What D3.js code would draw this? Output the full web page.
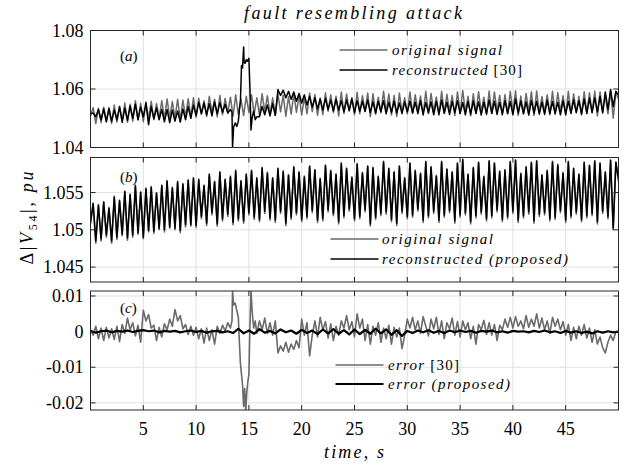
<!DOCTYPE html>
<html><head><meta charset="utf-8">
<script src="https://cdn.jsdelivr.net/npm/d3@7"></script>
<style>
body{margin:0;background:#fff}
svg, svg text{font-family:"Liberation Serif","DejaVu Serif","Noto Serif",serif;fill:#000}
</style>
</head><body>
<svg id="chart" width="628" height="466" font-family="Liberation Serif, DejaVu Serif, serif"></svg>
<script>
// ---------------- DATA ----------------
const timeStep = 0.25;           // seconds between samples of the main series
const errProposedStep = 0.5;     // seconds between samples of error (proposed)
const xTicks = [5, 10, 15, 20, 25, 30, 35, 40, 45];
const xTickLabels = ["5", "10", "15", "20", "25", "30", "35", "40", "45"];
const yTicksA = [1.04, 1.06, 1.08];
const yTickLabelsA = ["1.04", "1.06", "1.08"];
const yTicksB = [1.045, 1.05, 1.055];
const yTickLabelsB = ["1.045", "1.05", "1.055"];
const yTicksC = [-0.02, -0.01, 0, 0.01];
const yTickLabelsC = ["-0.02", "-0.01", "0", "0.01"];
const legendA = ["original signal", "reconstructed [30]"];
const legendB = ["original signal", "reconstructed (proposed)"];
const legendC = ["error [30]", "error (proposed)"];

// original signal, t = 0 .. 50 s every 0.25 s (one row per second)
const originalSignal = [
1.0508,1.0536,1.0482,1.0534,
1.0485,1.0538,1.0490,1.0530,
1.0482,1.0545,1.0487,1.0540,
1.0492,1.0552,1.0486,1.0548,
1.0490,1.0560,1.0494,1.0551,
1.0488,1.0556,1.0497,1.0558,
1.0495,1.0550,1.0500,1.0560,
1.0497,1.0566,1.0502,1.0557,
1.0500,1.0565,1.0496,1.0562,
1.0504,1.0567,1.0505,1.0570,
1.0503,1.0568,1.0515,1.0560,
1.0506,1.0575,1.0520,1.0565,
1.0505,1.0578,1.0512,1.0568,
1.0518,1.0572,1.0507,1.0580,
1.0512,1.0566,1.0509,1.0575,
1.0520,1.0580,1.0514,1.0570,
1.0511,1.0584,1.0522,1.0577,
1.0513,1.0570,1.0510,1.0583,
1.0522,1.0579,1.0506,1.0574,
1.0514,1.0585,1.0520,1.0578,
1.0511,1.0572,1.0515,1.0586,
1.0523,1.0581,1.0510,1.0569,
1.0512,1.0587,1.0524,1.0580,
1.0519,1.0575,1.0508,1.0590,
1.0516,1.0583,1.0525,1.0571,
1.0512,1.0589,1.0515,1.0577,
1.0524,1.0586,1.0505,1.0584,
1.0514,1.0572,1.0519,1.0592,
1.0521,1.0583,1.0511,1.0578,
1.0506,1.0586,1.0522,1.0570,
1.0515,1.0590,1.0517,1.0580,
1.0525,1.0576,1.0510,1.0592,
1.0516,1.0585,1.0522,1.0573,
1.0510,1.0592,1.0517,1.0582,
1.0523,1.0578,1.0509,1.0590,
1.0517,1.0595,1.0520,1.0575,
1.0508,1.0584,1.0516,1.0591,
1.0521,1.0572,1.0512,1.0593,
1.0516,1.0590,1.0524,1.0579,
1.0511,1.0581,1.0515,1.0592,
1.0522,1.0594,1.0510,1.0576,
1.0516,1.0585,1.0521,1.0591,
1.0509,1.0593,1.0518,1.0574,
1.0520,1.0580,1.0512,1.0592,
1.0514,1.0588,1.0523,1.0577,
1.0510,1.0592,1.0516,1.0583,
1.0521,1.0575,1.0511,1.0591,
1.0516,1.0587,1.0519,1.0593,
1.0508,1.0590,1.0522,1.0578,
1.0515,1.0594,1.0500,1.0590,
1.0565];

// reconstructed [30], t = 0 .. 50 s every 0.25 s (spike detail below)
const reconstructed30 = [
1.0515,1.0518,1.0505,1.0530,
1.0495,1.0532,1.0488,1.0535,
1.0490,1.0528,1.0495,1.0540,
1.0486,1.0535,1.0493,1.0542,
1.0500,1.0548,1.0495,1.0538,
1.0505,1.0552,1.0478,1.0540,
1.0498,1.0535,1.0495,1.0530,
1.0488,1.0530,1.0485,1.0528,
1.0490,1.0525,1.0487,1.0532,
1.0495,1.0540,1.0500,1.0545,
1.0510,1.0555,1.0515,1.0552,
1.0512,1.0550,1.0508,1.0556,
1.0515,1.0553,1.0520,1.0548,
1.0518,1.0540,1.0402,1.0460,
1.0480,1.0590,1.0690,1.0740,
1.0705,1.0460,1.0520,1.0505,
1.0505,1.0540,1.0512,1.0545,
1.0508,1.0550,1.0510,1.0598,
1.0578,1.0596,1.0570,1.0592,
1.0565,1.0590,1.0558,1.0585,
1.0552,1.0580,1.0545,1.0575,
1.0538,1.0570,1.0532,1.0566,
1.0528,1.0568,1.0530,1.0562,
1.0525,1.0565,1.0528,1.0560,
1.0522,1.0563,1.0526,1.0566,
1.0520,1.0560,1.0524,1.0558,
1.0523,1.0562,1.0519,1.0556,
1.0518,1.0558,1.0522,1.0560,
1.0515,1.0555,1.0520,1.0558,
1.0518,1.0552,1.0516,1.0556,
1.0522,1.0558,1.0518,1.0555,
1.0516,1.0560,1.0514,1.0554,
1.0519,1.0556,1.0512,1.0558,
1.0515,1.0562,1.0517,1.0555,
1.0513,1.0557,1.0519,1.0560,
1.0516,1.0554,1.0512,1.0558,
1.0514,1.0559,1.0517,1.0556,
1.0511,1.0555,1.0515,1.0562,
1.0517,1.0558,1.0513,1.0554,
1.0514,1.0560,1.0516,1.0557,
1.0512,1.0566,1.0518,1.0559,
1.0515,1.0556,1.0511,1.0561,
1.0518,1.0558,1.0514,1.0555,
1.0513,1.0562,1.0516,1.0557,
1.0516,1.0555,1.0512,1.0560,
1.0514,1.0558,1.0517,1.0563,
1.0519,1.0560,1.0515,1.0566,
1.0517,1.0568,1.0520,1.0570,
1.0522,1.0575,1.0518,1.0590,
1.0530,1.0598,1.0540,1.0592,
1.0580];
// finer reading of the attack spike of reconstructed [30]
const recon30SpikeTime  = [13.25,13.4,13.45,13.55,13.7,13.85,14.0,14.1,14.2,14.3,14.4,14.5,14.55,14.65,14.75,14.85,15.0,15.1,15.2,15.3,15.45,15.6,15.75];
const recon30SpikeValue = [1.0530,1.0520,1.0400,1.0470,1.0484,1.0472,1.0490,1.0528,1.0560,1.0680,1.0672,1.0744,1.0690,1.0688,1.0700,1.0695,1.0705,1.0600,1.0460,1.0500,1.0525,1.0495,1.0505];

// reconstructed (proposed), t = 0 .. 50 s every 0.25 s
const reconstructedProposed = [
1.0510,1.0535,1.0485,1.0533,
1.0488,1.0537,1.0493,1.0529,
1.0485,1.0544,1.0490,1.0539,
1.0494,1.0551,1.0489,1.0547,
1.0493,1.0559,1.0496,1.0550,
1.0490,1.0555,1.0499,1.0557,
1.0498,1.0549,1.0502,1.0559,
1.0500,1.0565,1.0504,1.0556,
1.0502,1.0564,1.0499,1.0561,
1.0507,1.0566,1.0507,1.0569,
1.0506,1.0567,1.0518,1.0559,
1.0509,1.0574,1.0523,1.0564,
1.0508,1.0577,1.0515,1.0567,
1.0521,1.0571,1.0510,1.0579,
1.0515,1.0565,1.0512,1.0574,
1.0523,1.0579,1.0517,1.0569,
1.0514,1.0583,1.0525,1.0576,
1.0516,1.0569,1.0513,1.0582,
1.0525,1.0578,1.0509,1.0573,
1.0517,1.0584,1.0523,1.0577,
1.0514,1.0571,1.0518,1.0585,
1.0526,1.0580,1.0513,1.0568,
1.0515,1.0586,1.0527,1.0579,
1.0522,1.0574,1.0511,1.0589,
1.0519,1.0582,1.0528,1.0570,
1.0515,1.0588,1.0518,1.0576,
1.0527,1.0585,1.0508,1.0583,
1.0517,1.0571,1.0522,1.0591,
1.0524,1.0582,1.0514,1.0577,
1.0509,1.0585,1.0525,1.0569,
1.0518,1.0589,1.0520,1.0579,
1.0528,1.0575,1.0513,1.0591,
1.0519,1.0584,1.0525,1.0572,
1.0513,1.0591,1.0520,1.0581,
1.0526,1.0577,1.0512,1.0589,
1.0520,1.0594,1.0523,1.0574,
1.0511,1.0583,1.0519,1.0590,
1.0524,1.0571,1.0515,1.0592,
1.0519,1.0589,1.0527,1.0578,
1.0514,1.0580,1.0518,1.0591,
1.0525,1.0593,1.0513,1.0575,
1.0519,1.0584,1.0524,1.0590,
1.0512,1.0592,1.0521,1.0573,
1.0523,1.0579,1.0515,1.0591,
1.0517,1.0587,1.0526,1.0576,
1.0513,1.0591,1.0519,1.0582,
1.0524,1.0574,1.0514,1.0590,
1.0519,1.0586,1.0522,1.0592,
1.0511,1.0589,1.0525,1.0577,
1.0518,1.0593,1.0502,1.0591,
1.0568];

// error [30], t = 0 .. 50 s every 0.25 s (spike detail below)
const error30 = [
0.0005,-0.0010,0.0015,-0.0020,
0.0010,-0.0025,0.0012,-0.0018,
0.0008,-0.0022,0.0015,-0.0028,
0.0020,-0.0005,0.0038,0.0005,
0.0025,-0.0012,0.0018,-0.0030,
0.0060,0.0030,0.0048,0.0010,
0.0018,-0.0025,0.0012,-0.0015,
0.0022,0.0005,0.0035,0.0015,
0.0062,0.0030,0.0045,0.0008,
0.0020,-0.0008,0.0015,-0.0010,
0.0012,-0.0020,0.0008,-0.0032,
0.0010,-0.0025,0.0005,-0.0035,
0.0015,-0.0005,0.0018,0.0002,
0.0025,0.0010,0.0110,0.0070,
0.0040,-0.0120,-0.0210,-0.0170,
-0.0120,0.0110,0.0010,0.0030,
0.0030,0.0005,0.0038,-0.0005,
0.0025,-0.0010,0.0030,-0.0060,
-0.0040,-0.0055,-0.0030,-0.0058,
-0.0035,-0.0050,-0.0025,-0.0045,
0.0035,-0.0010,0.0025,-0.0068,
-0.0010,0.0030,-0.0015,0.0040,
0.0005,0.0028,-0.0018,0.0022,
-0.0025,0.0015,-0.0010,0.0030,
0.0010,0.0045,0.0005,0.0028,
-0.0015,0.0050,0.0010,0.0035,
-0.0025,0.0020,-0.0035,0.0015,
-0.0010,0.0025,-0.0030,0.0010,
-0.0020,0.0018,-0.0035,0.0012,
-0.0015,0.0010,-0.0048,-0.0010,
0.0035,0.0010,0.0040,0.0005,
0.0030,-0.0005,0.0042,0.0015,
-0.0012,0.0035,0.0008,0.0040,
-0.0008,0.0030,-0.0020,0.0025,
0.0008,0.0038,-0.0010,0.0028,
-0.0015,0.0030,0.0005,0.0025,
-0.0020,0.0015,-0.0035,0.0020,
0.0005,0.0032,-0.0008,0.0025,
-0.0010,0.0020,-0.0025,0.0018,
0.0005,0.0035,0.0012,0.0040,
0.0010,0.0042,0.0015,0.0030,
0.0008,0.0045,0.0012,0.0035,
0.0015,0.0050,0.0010,0.0038,
0.0005,0.0030,-0.0005,0.0040,
0.0015,0.0035,0.0005,0.0028,
-0.0010,0.0020,-0.0025,0.0012,
-0.0020,0.0015,-0.0010,0.0020,
-0.0018,0.0010,-0.0030,0.0005,
-0.0035,-0.0015,-0.0045,-0.0060,
-0.0030,-0.0010,-0.0025,0.0000,
0.0000];
const error30SpikeTime  = [13.25,13.4,13.45,13.55,13.7,13.85,14.0,14.1,14.2,14.3,14.4,14.5,14.6,14.7,14.8,14.9,15.0,15.1,15.2,15.3,15.45,15.6,15.75];
const error30SpikeValue = [0.0010,0.0030,0.0115,0.0075,0.0080,0.0060,0.0040,-0.0030,-0.0090,-0.0120,-0.0150,-0.0210,-0.0160,-0.0225,-0.0170,-0.0140,-0.0120,0.0020,0.0115,0.0060,0.0010,0.0030,-0.0005];

// error (proposed), t = 0 .. 50 s every 0.5 s
const errorProposed = [
0.0002,-0.0003,0.0001,0.0003,-0.0002,0.0002,0.0000,0.0003,-0.0001,0.0002,
0.0004,0.0001,0.0003,-0.0002,0.0002,0.0000,0.0002,-0.0002,0.0001,0.0003,
-0.0001,0.0002,-0.0003,0.0001,0.0002,-0.0002,0.0001,-0.0004,0.0008,-0.0005,
0.0003,-0.0006,0.0007,-0.0003,0.0002,-0.0005,0.0006,-0.0002,0.0003,-0.0006,
0.0005,-0.0004,0.0003,-0.0007,0.0006,-0.0005,0.0007,-0.0006,0.0004,-0.0008,
0.0006,-0.0007,0.0005,-0.0006,0.0008,-0.0005,0.0006,-0.0009,0.0004,-0.0012,
0.0002,-0.0004,0.0003,-0.0002,0.0004,-0.0003,0.0002,-0.0004,0.0003,-0.0002,
0.0003,-0.0001,0.0002,-0.0003,0.0002,0.0000,0.0003,-0.0002,0.0001,-0.0003,
0.0002,0.0000,0.0001,-0.0002,0.0002,-0.0001,0.0003,-0.0002,0.0001,-0.0004,
0.0002,-0.0003,0.0001,-0.0004,0.0000,-0.0005,0.0001,-0.0003,0.0001,-0.0002,
0.0000];

// ---------------- BUILD SERIES ----------------
function toPoints(values, step) { return values.map((v, i) => ({t: i * step, v})); }
function withDetail(values, step, dt, dv) {
  const lo = dt[0], hi = dt[dt.length - 1];
  const base = toPoints(values, step).filter(p => p.t < lo || p.t > hi);
  const det = dt.map((t, i) => ({t, v: dv[i]}));
  return base.concat(det).sort((a, b) => a.t - b.t);
}
const sOrig = toPoints(originalSignal, timeStep);
const sRecon30 = withDetail(reconstructed30, timeStep, recon30SpikeTime, recon30SpikeValue);
const sReconProp = toPoints(reconstructedProposed, timeStep);
const sErr30 = withDetail(error30, timeStep, error30SpikeTime, error30SpikeValue);
const sErrProp = toPoints(errorProposed, errProposedStep);

// ---------------- DRAW ----------------
const FONT = "Liberation Serif, DejaVu Serif, serif";
const svg = d3.select("#chart");
const X0 = 90.5, X1 = 618.5;
const x = d3.scaleLinear().domain([0, 50]).range([X0, X1]);
const GRAY = "#6a6a6a", GRID = "#e2e2e2", AXIS = "#262626";

const panels = [
  {id: "a", top: 30.5, bottom: 147.5, domain: [1.04, 1.08], ticks: yTicksA, labels: yTickLabelsA,
   series: [{d: sOrig, c: GRAY, w: 1.5}, {d: sRecon30, c: "#000", w: 1.5}]},
  {id: "b", top: 157.5, bottom: 282, domain: [1.0430, 1.0597], ticks: yTicksB, labels: yTickLabelsB,
   series: [{d: sOrig, c: GRAY, w: 1.6}, {d: sReconProp, c: "#000", w: 1.5}]},
  {id: "c", top: 291, bottom: 410, domain: [-0.0220, 0.0114], ticks: yTicksC, labels: yTickLabelsC,
   series: [{d: sErr30, c: GRAY, w: 1.6}, {d: sErrProp, c: "#000", w: 2.2}]}
];

panels.forEach(p => {
  const y = d3.scaleLinear().domain(p.domain).range([p.bottom, p.top]);
  const g = svg.append("g");
  g.selectAll(".gx").data(xTicks).join("line")
    .attr("x1", d => x(d)).attr("x2", d => x(d)).attr("y1", p.top).attr("y2", p.bottom)
    .attr("stroke", GRID).attr("stroke-width", 1);
  g.selectAll(".gy").data(p.ticks).join("line")
    .attr("x1", X0).attr("x2", X1).attr("y1", d => y(d)).attr("y2", d => y(d))
    .attr("stroke", GRID).attr("stroke-width", 1);
  svg.append("clipPath").attr("id", "clip" + p.id).append("rect")
    .attr("x", X0).attr("y", p.top).attr("width", X1 - X0).attr("height", p.bottom - p.top);
  const line = d3.line().x(d => x(d.t)).y(d => y(d.v));
  p.series.forEach(s => {
    g.append("path").datum(s.d).attr("d", line).attr("fill", "none")
      .attr("stroke", s.c).attr("stroke-width", s.w).attr("stroke-linejoin", "round")
      .attr("clip-path", `url(#clip${p.id})`);
  });
  g.append("rect").attr("x", X0).attr("y", p.top).attr("width", X1 - X0).attr("height", p.bottom - p.top)
    .attr("fill", "none").attr("stroke", AXIS).attr("stroke-width", 1);
  const tl = 5;
  xTicks.forEach(t => {
    g.append("line").attr("x1", x(t)).attr("x2", x(t)).attr("y1", p.bottom).attr("y2", p.bottom - tl).attr("stroke", AXIS);
    g.append("line").attr("x1", x(t)).attr("x2", x(t)).attr("y1", p.top).attr("y2", p.top + tl).attr("stroke", AXIS);
  });
  p.ticks.forEach(t => {
    g.append("line").attr("x1", X0).attr("x2", X0 + tl).attr("y1", y(t)).attr("y2", y(t)).attr("stroke", AXIS);
    g.append("line").attr("x1", X1).attr("x2", X1 - tl).attr("y1", y(t)).attr("y2", y(t)).attr("stroke", AXIS);
  });
  g.selectAll(".yl").data(p.ticks).join("text")
    .attr("font-family", FONT)
    .attr("x", X0 - 7).attr("y", d => y(d) + 6).attr("text-anchor", "end")
    .attr("font-size", 18).text((d, i) => p.labels[i]);
  const tag = g.append("text").attr("font-family", FONT).attr("x", 120)
    .attr("y", p.top + (p.id === "c" ? 22 : (p.id === "a" ? 30 : 24))).attr("font-size", 15);
  tag.append("tspan").text("(");
  tag.append("tspan").attr("font-style", "italic").text(p.id);
  tag.append("tspan").text(")");
});

svg.selectAll(".xl").data(xTicks).join("text")
  .attr("font-family", FONT)
  .attr("x", d => x(d)).attr("y", 435).attr("text-anchor", "middle")
  .attr("font-size", 18).text((d, i) => xTickLabels[i]);

svg.append("text").attr("font-family", FONT).attr("x", 353).attr("y", 19).attr("text-anchor", "middle")
  .attr("font-size", 18).attr("font-style", "italic")
  .attr("textLength", 218).attr("lengthAdjust", "spacing")
  .text("fault resembling attack");

const xl = svg.append("text").attr("font-family", FONT).attr("x", 354).attr("y", 458).attr("text-anchor", "middle")
  .attr("font-size", 18).attr("textLength", 60).attr("lengthAdjust", "spacing");
xl.append("tspan").attr("font-style", "italic").text("time");
xl.append("tspan").text(", ");
xl.append("tspan").attr("font-style", "italic").text("s");

const yl = svg.append("text").attr("font-family", FONT).attr("transform", "translate(33,218) rotate(-90)")
  .attr("text-anchor", "middle").attr("font-size", 18)
  .attr("textLength", 93).attr("lengthAdjust", "spacing");
yl.append("tspan").text("Δ|");
yl.append("tspan").attr("font-style", "italic").text("V");
yl.append("tspan").attr("font-size", 12).attr("dy", 4).text("54");
yl.append("tspan").attr("dy", -4).text("|,  ");
yl.append("tspan").attr("font-style", "italic").text("pu");

function legend(xLine, xText, ys, names, widths, styles) {
  names.forEach((n, i) => {
    svg.append("line").attr("x1", xLine).attr("x2", xLine + 48).attr("y1", ys[i]).attr("y2", ys[i])
      .attr("stroke", styles[i].c).attr("stroke-width", styles[i].w);
    const t = svg.append("text").attr("font-family", FONT).attr("x", xText).attr("y", ys[i] + 5).attr("font-size", 15)
      .attr("textLength", widths[i]).attr("lengthAdjust", "spacing");
    const m = n.match(/^(.*?)(\s*\[30\])?$/);
    t.append("tspan").attr("font-style", "italic").text(m[1]);
    if (m[2]) t.append("tspan").text(m[2]);
  });
}
legend(339.5, 392, [50, 70], legendA, [110, 130], [{c: GRAY, w: 1.5}, {c: "#000", w: 1.5}]);
legend(330.5, 382, [239, 259], legendB, [111, 186], [{c: GRAY, w: 1.5}, {c: "#000", w: 1.5}]);
legend(335.5, 388, [365, 384], legendC, [71, 122], [{c: GRAY, w: 1.5}, {c: "#000", w: 2.2}]);
</script>
</body></html>
